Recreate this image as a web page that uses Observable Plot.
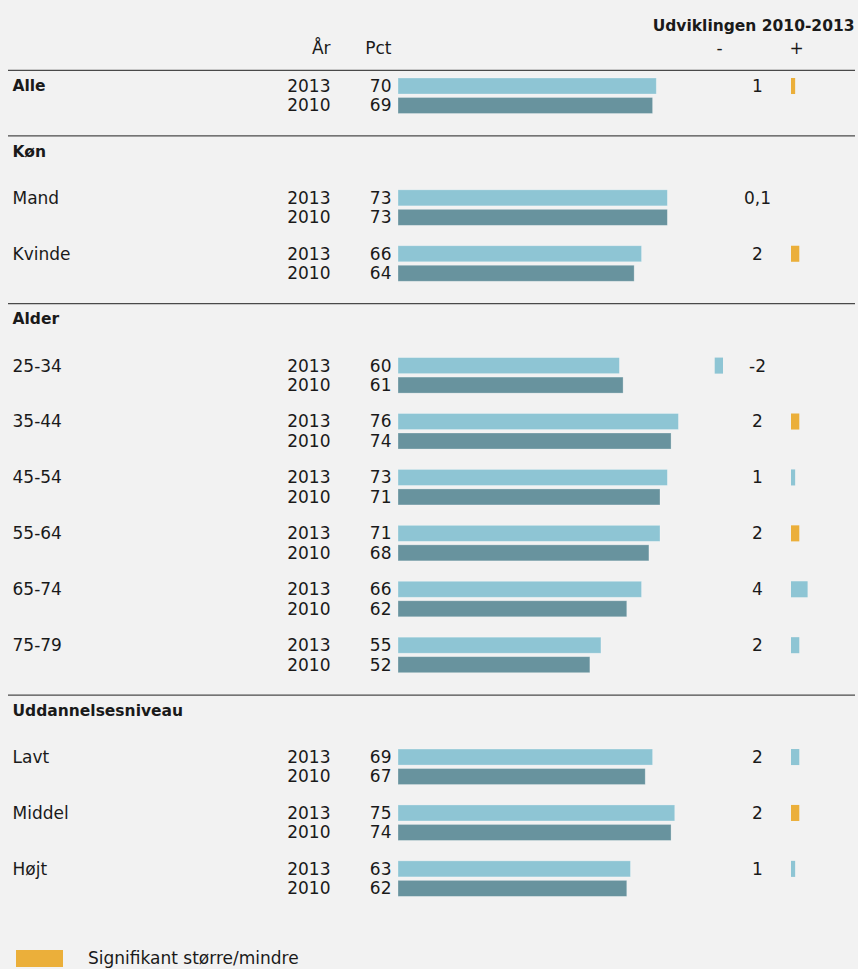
<!DOCTYPE html>
<html>
<head>
<meta charset="utf-8">
<script src="https://cdn.jsdelivr.net/npm/d3@7"></script>
<script src="https://cdn.jsdelivr.net/npm/@observablehq/plot@0.6"></script>
<style>
  html, body { margin: 0; padding: 0; background: #f2f2f2; }
  #chart { width: 858px; }
  .legend { position: relative; width: 858px; height: 29px; font-family: "DejaVu Sans", sans-serif; font-size: 17px; color: #1a1a1a; }
  .legend .sw { position: absolute; left: 16px; top: 10px; width: 47px; height: 17px; background: #ebaf3a; }
  .legend .lb { position: absolute; left: 88px; top: 7px; line-height: 22px; }
</style>
</head>
<body>
<div id="chart"></div>
<div class="legend"><div class="sw"></div><div class="lb">Signifikant større/mindre</div></div>
<script>
// ---- data ----
const groups = ["Alle", "Køn", "Alder", "Uddannelsesniveau"];
const labels = ["Alle", "Mand", "Kvinde", "25-34", "35-44", "45-54", "55-64", "65-74", "75-79", "Lavt", "Middel", "Højt"];
const groupOf = ["Alle", "Køn", "Køn", "Alder", "Alder", "Alder", "Alder", "Alder", "Alder", "Uddannelsesniveau", "Uddannelsesniveau", "Uddannelsesniveau"];
const years = ["2013", "2010"];
const pct2013 = [70, 73, 66, 60, 76, 73, 71, 66, 55, 69, 75, 63];
const pct2010 = [69, 73, 64, 61, 74, 71, 68, 62, 52, 67, 74, 62];
const change = [1, 0.1, 2, -2, 2, 1, 2, 4, 2, 2, 2, 1];
const changeLabels = ["1", "0,1", "2", "-2", "2", "1", "2", "4", "2", "2", "2", "1"];
const significant = [true, false, true, false, true, false, true, false, false, false, true, false];
const title = "Udviklingen 2010-2013";
const colHeaders = ["År", "Pct", "-", "+"];

// ---- layout (row units) ----
const W = 858, H = 940, unit = 18.64, top0 = 86;
const pairOffset = 1.046, halfBar = 0.43;
const cLight = "#8ec5d4", cDark = "#68939e", cOrange = "#ebaf3a", ink = "#1a1a1a";

const rows = [];
const headers = [];
const seps = [-0.86];
let cursor = 0;
groups.forEach((g) => {
  const idxs = labels.map((_, i) => i).filter(i => groupOf[i] === g);
  let pos;
  if (g === "Alle") {
    pos = cursor;
  } else {
    seps.push(cursor - 0.35);
    headers.push({label: g, pos: cursor + 0.5});
    pos = cursor + 3;
  }
  idxs.forEach(i => {
    rows.push({label: labels[i], bold: g === "Alle", pos, p13: pct2013[i], p10: pct2010[i],
               change: change[i], changeLabel: changeLabels[i], sig: significant[i]});
    pos += 3;
  });
  cursor = pos;
});

const bars = rows.flatMap(r => [
  {year: years[0], value: r.p13, pos: r.pos, fill: cLight},
  {year: years[1], value: r.p10, pos: r.pos + pairOffset, fill: cDark}
]);

const changeScale = 1.125; // change bars drawn slightly wider per point than level bars
const plusZero = 791 - 398, minusZero = 723 - 398;

const chart = Plot.plot({
  width: W, height: H,
  marginLeft: 0, marginRight: 0, marginTop: 0, marginBottom: 0,
  style: {background: "#f2f2f2", fontFamily: "DejaVu Sans, sans-serif", fontSize: "17px", color: ink},
  x: {domain: [0, 100], range: [398, 767], axis: null},
  y: {type: "linear", domain: [-top0 / unit, (H - top0) / unit], range: [0, H], axis: null},
  marks: [
    Plot.ruleY(seps, {y: d => d, stroke: "#4a4a4a", strokeWidth: 1.2, insetLeft: 8, insetRight: 3}),
    // level bars
    Plot.rect(bars, {x1: d => 0, x2: "value", y1: d => d.pos - halfBar, y2: d => d.pos + halfBar,
                     fill: "fill", stroke: "#ffffff", strokeOpacity: 0.35, strokeWidth: 0.8}),
    // change bars (positive)
    Plot.rect(rows.filter(d => d.change >= 0.5), {x1: d => 0, x2: d => d.change * changeScale, dx: plusZero,
      y1: d => d.pos - halfBar, y2: d => d.pos + halfBar, fill: d => d.sig ? cOrange : cLight}),
    // change bars (negative)
    Plot.rect(rows.filter(d => d.change <= -0.5), {x1: d => d.change * changeScale, x2: d => 0, dx: minusZero,
      y1: d => d.pos - halfBar, y2: d => d.pos + halfBar, fill: d => d.sig ? cOrange : cLight}),
    // row labels
    Plot.text(rows.filter(d => !d.bold), {y: "pos", text: "label", frameAnchor: "left", dx: 12, textAnchor: "start", fill: ink}),
    Plot.text(rows.filter(d => d.bold), {y: "pos", text: "label", frameAnchor: "left", dx: 12, textAnchor: "start",
      fontWeight: "bold", fontSize: 15.5, fill: ink}),
    Plot.text(headers, {y: "pos", text: "label", frameAnchor: "left", dx: 12, textAnchor: "start",
      fontWeight: "bold", fontSize: 15.5, fill: ink}),
    // year & pct columns
    Plot.text(bars, {y: "pos", text: "year", frameAnchor: "left", dx: 330, textAnchor: "end", fill: ink}),
    Plot.text(bars, {y: "pos", x: d => 0, text: d => String(d.value), dx: -7, textAnchor: "end", fill: ink}),
    // change labels
    Plot.text(rows, {y: "pos", x: d => 0, text: "changeLabel", dx: 757 - 398, textAnchor: "middle", fill: ink}),
    // column headers
    Plot.text([colHeaders[0]], {frameAnchor: "top-left", lineAnchor: "middle", dx: 330, dy: 48, textAnchor: "end", fill: ink}),
    Plot.text([colHeaders[1]], {frameAnchor: "top-left", lineAnchor: "middle", dx: 391, dy: 48, textAnchor: "end", fill: ink}),
    Plot.text([colHeaders[2]], {frameAnchor: "top-left", lineAnchor: "middle", dx: 719, dy: 48, textAnchor: "middle", fill: ink}),
    Plot.text([colHeaders[3]], {frameAnchor: "top-left", lineAnchor: "middle", dx: 796, dy: 48, textAnchor: "middle", fill: ink}),
    Plot.text([title], {frameAnchor: "top-right", lineAnchor: "middle", dx: -4, dy: 26, textAnchor: "end", fontWeight: "bold", fontSize: 15.5, fill: ink})
  ]
});
document.getElementById("chart").appendChild(chart);
</script>
</body>
</html>
